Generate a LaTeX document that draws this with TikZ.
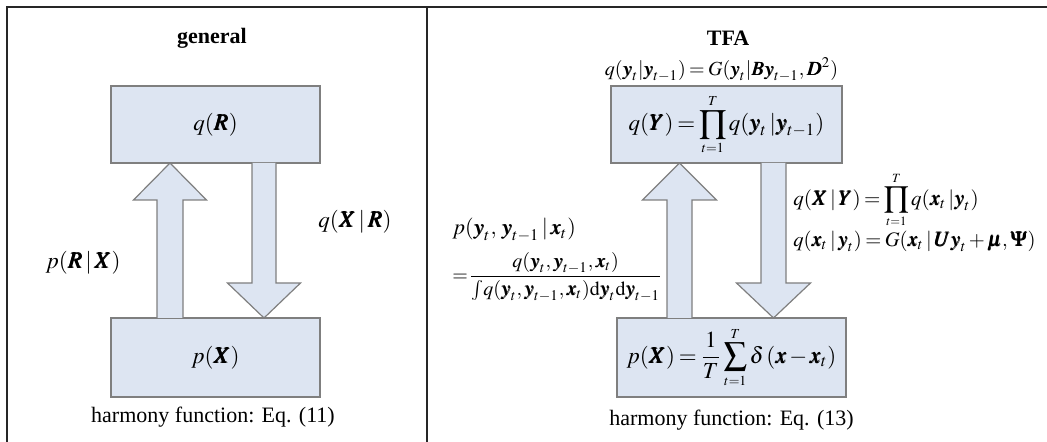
\documentclass[tikz,border=0pt]{standalone}
\usepackage{amsmath}
\IfFileExists{mathptmx.sty}{\usepackage{mathptmx}}{}
\usepackage{bm}
\newcommand{\bv}{\bm}
\usepackage[no-math]{fontspec}
\setmainfont{Liberation Serif}
\definecolor{boxfill}{HTML}{DDE5F2}
\definecolor{boxline}{HTML}{7F7F7F}
\newcommand{\tightmath}{\thickmuskip=3mu\medmuskip=2mu\thinmuskip=2mu}
\tikzset{
  px/.style={x=0.5pt,y=-0.5pt},
  txt/.style={inner sep=0pt,font=\fontsize{11}{13}\selectfont\tightmath},
  blockbox/.style={draw=boxline,fill=boxfill,line width=0.6pt,inner sep=0pt,font=\fontsize{11.5}{13.5}\selectfont\tightmath},
  blockarrow/.style={draw=boxline,fill=boxfill,line width=0.6pt,line join=miter},
  frameline/.style={draw=black!85,line width=1pt}
}
\begin{document}
\begin{tikzpicture}[px]
\useasboundingbox (0,0) rectangle (1047,442);
% frame
\draw[frameline] (7,442) -- (7,7) -- (1047,7);
\draw[frameline] (427,7) -- (427,442);

% ---------- left panel ----------
\node[txt,font=\fontsize{11}{13}\selectfont\bfseries] (tgen) at (212,38) {general};
\node[blockbox,minimum width=104.5pt,minimum height=38.5pt] (qR) at (215.5,124.5) {$q(\bv{R})$};
\node[blockbox,minimum width=104.5pt,minimum height=39.5pt] (pX) at (215.5,357.5) {$p(\bv{X})$};
% up arrow p(R|X)
\draw[blockarrow] (157,318) -- (157,200) -- (133.5,200) -- (170,163) -- (206.5,200) -- (183,200) -- (183,318);
% down arrow q(X|R)
\draw[blockarrow] (252,163) -- (252,283) -- (227.5,283) -- (264,318) -- (300.5,283) -- (276,283) -- (276,163);
\node[txt,font=\fontsize{11.5}{13}\selectfont] (lpRX) at (83,263) {$p(\bv{R}\,|\,\bv{X})$};
\node[txt,font=\fontsize{11.5}{13}\selectfont] (lqXR) at (355,222) {$q(\bv{X}\,|\,\bv{R})$};
\node[txt] (hf1) at (213,417) {harmony function: Eq. (11)};

% ---------- right panel ----------
\node[txt,font=\fontsize{11}{13}\selectfont\bfseries] (ttfa) at (728,38) {TFA};
\node[txt,font=\fontsize{10}{12}\selectfont\tightmath] (ftop) at (721.5,70) {$q(\bv{y}_t|\bv{y}_{t-1})=G(\bv{y}_t|\bv{B}\bv{y}_{t-1},\bv{D}^2)$};
\node[blockbox,minimum width=115.5pt,minimum height=38.5pt] (qY) at (726.5,124.5)
  {$\displaystyle q(\bv{Y})=\prod\limits_{\scriptscriptstyle t=1}^{\scriptscriptstyle T}q(\bv{y}_t\,|\bv{y}_{t-1})$};
\node[blockbox,minimum width=114.5pt,minimum height=39.5pt] (pXr) at (731.5,357.5)
  {$\displaystyle p(\bv{X})=\frac{1}{T}\sum\limits_{\scriptscriptstyle t=1}^{\scriptscriptstyle T}\delta\,(\bv{x}-\bv{x}_t)$};
% up arrow
\draw[blockarrow] (667,318) -- (667,200) -- (642.5,200) -- (679.5,163) -- (716.5,200) -- (692,200) -- (692,318);
% down arrow
\draw[blockarrow] (761,163) -- (761,283) -- (736.5,283) -- (773.5,318) -- (810.5,283) -- (786,283) -- (786,163);
% left formula
\node[txt,anchor=west,font=\fontsize{11}{12}\selectfont\tightmath] (fp1) at (452,230) {$p(\bv{y}_t,\,\bv{y}_{t-1}\,|\,\bv{x}_t)$};
\node[txt,anchor=west,font=\fontsize{10}{12}\selectfont\tightmath] (fp2) at (452,277)
  {$\displaystyle =\!\frac{q(\bv{y}_t,\bv{y}_{t-1},\bv{x}_t)}{\textstyle\int\! q(\bv{y}_t,\bv{y}_{t-1},\bv{x}_t)\mathrm{d}\bv{y}_t\mathrm{d}\bv{y}_{t-1}}$};
% right formulas
\node[txt,anchor=west,font=\fontsize{10.5}{13}\selectfont\tightmath] (fq1) at (793,200)
  {$\displaystyle q(\bv{X}\,|\,\bv{Y})=\prod\limits_{\scriptscriptstyle t=1}^{\scriptscriptstyle T}q(\bv{x}_t\,|\bv{y}_t)$};
\node[txt,anchor=west,font=\fontsize{10.3}{13}\selectfont\tightmath] (fq2) at (793,241)
  {$q(\bv{x}_t\,|\,\bv{y}_t)=G(\bv{x}_t\,|\,\bv{U}\bv{y}_t+\bv{\mu},\bv{\Psi})$};
\node[txt] (hf2) at (731.5,420) {harmony function: Eq. (13)};
\end{tikzpicture}
\end{document}
